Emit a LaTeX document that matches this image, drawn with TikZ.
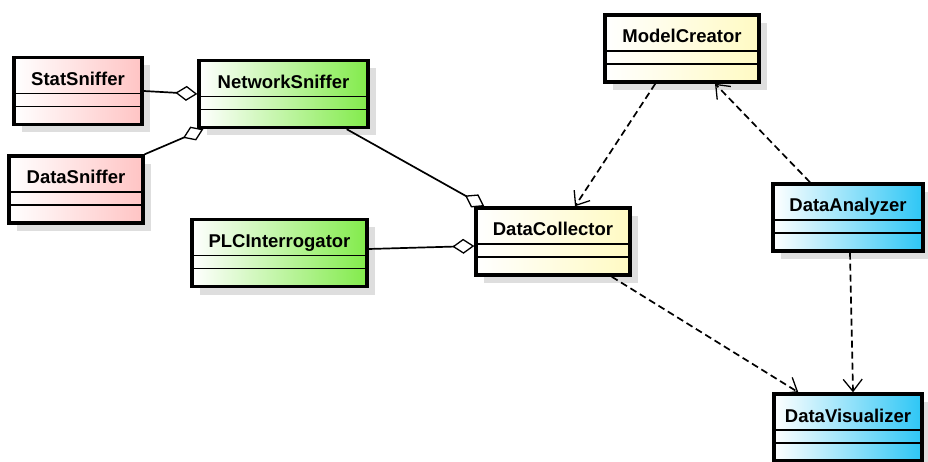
\documentclass[tikz,border=0pt]{standalone}
\usepackage{fontspec}
\setmainfont{Liberation Sans}
\usetikzlibrary{arrows.meta, shadows}

\definecolor{snifferpink}{RGB}{255,196,196}
\definecolor{sniffergreen}{RGB}{130,235,75}
\definecolor{collectyellow}{RGB}{255,250,195}
\definecolor{viewblue}{RGB}{45,198,245}

\begin{document}
\begin{tikzpicture}[
    x=1pt, y=-1pt,
    cls/.style={rectangle, draw=black, line width=3.4pt, inner xsep=0pt, inner ysep=0pt,
        text height=28pt, text depth=39pt, font=\fontsize{18.5}{20}\selectfont\bfseries,
        drop shadow={shadow xshift=8pt, shadow yshift=-8pt, fill=black!13, opacity=1},
        path picture={
            \draw[line width=1.7pt] ([yshift=-36pt]path picture bounding box.north west) -- ([yshift=-36pt]path picture bounding box.north east);
            \draw[line width=1.7pt] ([yshift=-49pt]path picture bounding box.north west) -- ([yshift=-49pt]path picture bounding box.north east);
        }},
    pinkcls/.style={cls, left color=white, right color=snifferpink},
    greencls/.style={cls, left color=white, right color=sniffergreen},
    yellowcls/.style={cls, left color=white, right color=collectyellow},
    bluecls/.style={cls, left color=white, right color=viewblue},
    agg/.style={line width=1.7pt, -{Diamond[open, length=22pt, width=15pt, line width=1.3pt]}},
    dep/.style={line width=1.7pt, dash pattern=on 7pt off 4pt, -{Straight Barb[length=12pt, width=19pt, line width=1.3pt]}}
]
    \useasboundingbox (0,0) rectangle (928,462);

    \node[pinkcls, minimum width=128pt] (stat) at (78,91) {StatSniffer};
    \node[pinkcls, minimum width=134pt] (datasniff) at (76,189.5) {DataSniffer};
    \node[greencls, minimum width=169pt] (netsniff) at (283.5,94) {NetworkSniffer};
    \node[greencls, minimum width=175pt] (plc) at (279.5,253) {PLCInterrogator};
    \node[yellowcls, minimum width=154pt] (collector) at (553,241.5) {DataCollector};
    \node[yellowcls, minimum width=154pt] (model) at (682,48.5) {ModelCreator};
    \node[bluecls, minimum width=150pt] (analyzer) at (848,217.5) {DataAnalyzer};
    \node[bluecls, minimum width=148pt] (visualizer) at (848,427.5) {DataVisualizer};

    % aggregations
    \draw[agg] (stat.east) -- (netsniff.west);
    \draw[agg] (datasniff.north east) -- ([xshift=6pt]netsniff.south west);
    \draw[agg] ([xshift=-23pt]netsniff.south east) -- ([xshift=10pt]collector.north west);
    \draw[agg] ([yshift=4pt]plc.east) -- ([yshift=-4.5pt]collector.west);

    % dependencies
    \draw[dep] ([xshift=52pt]model.south west) -- ([xshift=22pt]collector.north);
    \draw[dep] ([xshift=-38pt]analyzer.north) -- ([xshift=33pt]model.south);
    \draw[dep] ([xshift=-20pt]collector.south east) -- ([xshift=26pt]visualizer.north west);
    \draw[dep] ([xshift=2pt]analyzer.south) -- ([xshift=5pt]visualizer.north);
\end{tikzpicture}
\end{document}
